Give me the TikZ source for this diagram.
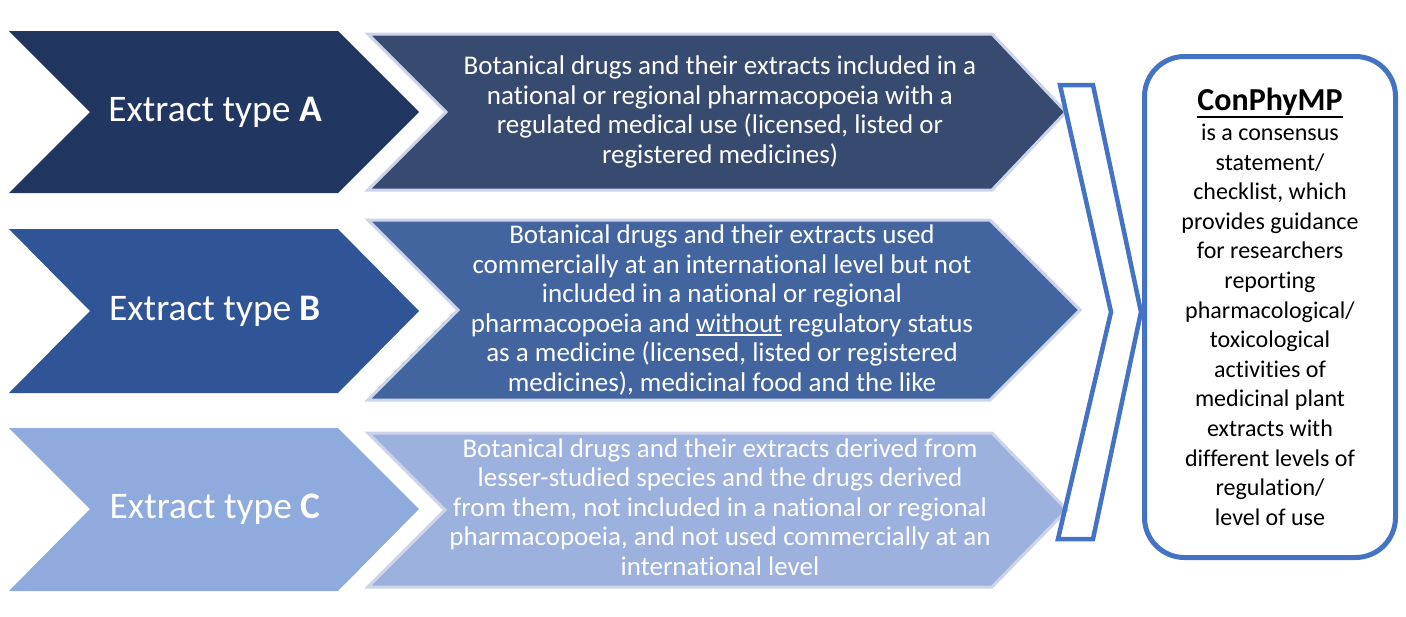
\documentclass[tikz,border=0pt]{standalone}
\usepackage{fontspec}
\setmainfont{Carlito}[Ligatures={NoCommon,NoRare}]
\definecolor{typeAfill}{HTML}{213761}
\definecolor{typeBfill}{HTML}{2F5597}
\definecolor{typeCfill}{HTML}{8FAADC}
\definecolor{descAfill}{HTML}{374A70}
\definecolor{descBfill}{HTML}{4265A0}
\definecolor{descCfill}{HTML}{9CB1DE}
\definecolor{descedge}{HTML}{CDD4EA}
\definecolor{outlineblue}{HTML}{4472C4}
\newcommand{\heavyul}[2]{\setbox0\hbox{#2}\rlap{\rule[#1]{\wd0}{0.09\ht0}}\box0\relax}
\tikzstyle{typetext} = [text=white, inner sep=0pt, font=\fontsize{37.5}{40}\selectfont]
\tikzstyle{desctext} = [text=white, inner sep=0pt, align=center, font=\fontsize{27}{29.5}\selectfont]
\tikzstyle{descbox} = [draw=descedge, line width=3pt]
\tikzstyle{openarrow} = [draw=outlineblue, line width=4.5pt]
\tikzstyle{summarybox} = [rectangle, rounded corners=40pt, minimum width=251pt, minimum height=501pt, draw=outlineblue, line width=5pt, fill=white, align=center, inner sep=0pt, font=\fontsize{24}{29.6}\selectfont]

\begin{document}
\begin{tikzpicture}[x=1pt, y=-1pt]
\useasboundingbox (0,0) rectangle (1406,616);

% Extract type A
\fill[typeAfill] (9,31) -- (338,31) -- (419,112) -- (338,193) -- (9,193) -- (90,112) -- cycle;
\node (typeA) [typetext] at (215,112) {Extract type \textbf{A}};
\filldraw[descAfill, descbox] (368,34) -- (992,34) -- (1066,112) -- (992,190) -- (368,190) -- (446,112) -- cycle;
\node (descA) [desctext] at (720,112) {
    Botanical drugs and their extracts included in a\\
    national or regional pharmacopoeia with a\\
    regulated medical use (licensed, listed or\\
    registered medicines)
};

% Extract type B
\fill[typeBfill] (9,229) -- (338,229) -- (419,311) -- (338,393) -- (9,393) -- (90,311) -- cycle;
\node (typeB) [typetext] at (215,311) {Extract type \textbf{B}};
\filldraw[descBfill, descbox] (368,220) -- (990,220) -- (1080,310) -- (990,400) -- (368,400) -- (458,310) -- cycle;
\node (descB) [desctext] at (722,310) {
    Botanical drugs and their extracts used\\
    commercially at an international level but not\\
    included in a national or regional\\
    pharmacopoeia and \heavyul{-3.5pt}{without} regulatory status\\
    as a medicine (licensed, listed or registered\\
    medicines), medicinal food and the like
};

% Extract type C
\fill[typeCfill] (9,428) -- (338,428) -- (419,509) -- (338,591) -- (9,591) -- (90,509) -- cycle;
\node (typeC) [typetext] at (215,509) {Extract type \textbf{C}};
\filldraw[descCfill, descbox] (368,433) -- (992,433) -- (1067,510) -- (992,587) -- (368,587) -- (445,510) -- cycle;
\node (descC) [desctext] at (720,507) {
    Botanical drugs and their extracts derived from\\
    lesser-studied species and the drugs derived\\
    from them, not included in a national or regional\\
    pharmacopoeia, and not used commercially at an\\
    international level
};

% Open chevron
\draw[openarrow] (1060,85) -- (1093,85) -- (1141,312) -- (1093,539) -- (1058,539) -- (1111,312) -- cycle;

% ConPhyMP
\node (conphymp) [summarybox] at (1270,307) {
    {\fontsize{32}{31}\selectfont\bfseries\heavyul{-7pt}{ConPhyMP}}\\
    is a consensus\\
    statement/\\
    checklist, which\\
    provides guidance\\
    for researchers\\
    reporting\\
    pharmacological/\\
    toxicological\\
    activities of\\
    medicinal plant\\
    extracts with\\
    different levels of\\
    regulation/\\
    level of use
};

\end{tikzpicture}
\end{document}
